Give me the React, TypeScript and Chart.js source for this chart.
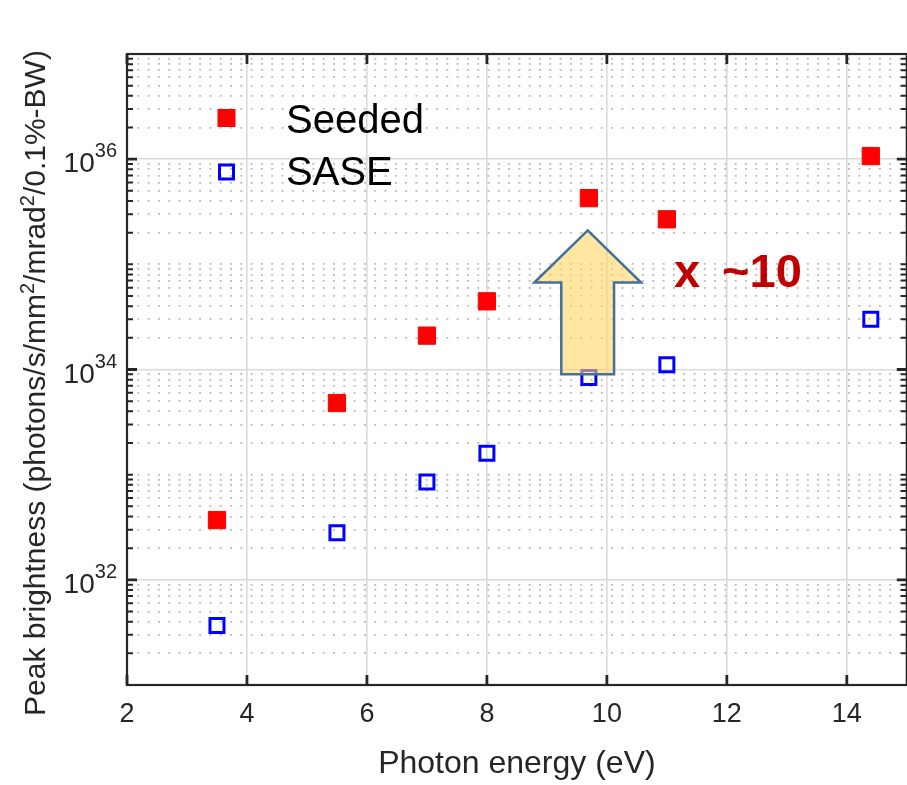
import React, { useEffect, useRef } from 'react';
import { Chart, registerables } from 'chart.js';

Chart.register(...registerables);

// Photon energies (eV) and peak brightness for the two FEL modes
const energies = [3.5, 5.5, 7, 8, 9.7, 11, 14.4];
const seededBrightness = [3.7e32, 4.8e33, 2.1e34, 4.45e34, 4.26e35, 2.68e35, 1.07e36];
const saseBrightness = [3.67e31, 2.8e32, 8.5e32, 1.6e33, 8.4e33, 1.11e34, 3.0e34];
const seriesLabels = ['Seeded', 'SASE'];

// Axis ticks and titles
const xTickValues = [2, 4, 6, 8, 10, 12, 14];
const yLabelExponents = [32, 34, 36];
const xTitle = 'Photon energy (eV)';
const yTitleParts: { text: string; sup?: boolean }[] = [
  { text: 'Peak brightness (photons/s/mm' },
  { text: '2', sup: true },
  { text: '/mrad' },
  { text: '2', sup: true },
  { text: '/0.1%-BW)' },
];

// Gain annotation: block arrow (data units) and its label
const gainArrow = { x: 9.68, tip: 2.1e35, neck: 6.7e34, base: 9.0e33, headHalf: 0.89, shaftHalf: 0.44 };
const gainText = ['x', '~10'];

const W = 920;
const H = 785;
const FONT = '"Liberation Sans", Arial, Helvetica, sans-serif';
const AXIS_COLOR = '#262626';

// every 1..9 x 10^n from 1e31 to 1e37 so each gets a grid line
const yGridValues: number[] = [];
for (let e = 31; e < 37; e++) for (let m = 1; m <= 9; m++) yGridValues.push(Number(`${m}e${e}`));
yGridValues.push(1e37);

const isDecade = (v: number) => {
  const lg = Math.log10(v);
  return Math.abs(lg - Math.round(lg)) < 1e-9;
};
const isLabelled = (v?: number) => {
  if (v === undefined) return false;
  if (!isDecade(v)) return false;
  return yLabelExponents.includes(Math.round(Math.log10(v)));
};

const overlayPlugin = {
  id: 'overlay',
  afterDatasetsDraw(chart: any) {
    const { ctx } = chart;
    const xs = chart.scales.x;
    const ys = chart.scales.y;
    const px = (v: number) => xs.getPixelForValue(v);
    const py = (v: number) => ys.getPixelForValue(v);

    // block arrow
    const a = gainArrow;
    ctx.save();
    ctx.beginPath();
    ctx.moveTo(px(a.x), py(a.tip));
    ctx.lineTo(px(a.x + a.headHalf), py(a.neck));
    ctx.lineTo(px(a.x + a.shaftHalf), py(a.neck));
    ctx.lineTo(px(a.x + a.shaftHalf), py(a.base));
    ctx.lineTo(px(a.x - a.shaftHalf), py(a.base));
    ctx.lineTo(px(a.x - a.shaftHalf), py(a.neck));
    ctx.lineTo(px(a.x - a.headHalf), py(a.neck));
    ctx.closePath();
    ctx.fillStyle = 'rgba(255, 214, 98, 0.6)';
    ctx.fill();
    ctx.lineWidth = 2.5;
    ctx.lineJoin = 'miter';
    ctx.strokeStyle = '#41719c';
    ctx.stroke();

    // gain label
    ctx.font = `bold 47px ${FONT}`;
    ctx.fillStyle = '#c00000';
    ctx.textBaseline = 'alphabetic';
    ctx.textAlign = 'left';
    ctx.fillText(gainText[0], px(11.12), py(6.1e34));
    ctx.fillText(gainText[1], px(11.92), py(6.1e34));
    ctx.restore();
  },
  afterDraw(chart: any) {
    const { ctx, chartArea } = chart;
    const { left, right, top, bottom } = chartArea;
    const xs = chart.scales.x;
    const ys = chart.scales.y;

    ctx.save();
    // axes box
    ctx.strokeStyle = AXIS_COLOR;
    ctx.lineWidth = 2.2;
    ctx.strokeRect(left, top, right - left, bottom - top);

    // x ticks (inward, bottom and top)
    ctx.lineWidth = 2.8;
    ctx.beginPath();
    xTickValues.forEach((v) => {
      const x = xs.getPixelForValue(v);
      ctx.moveTo(x, bottom);
      ctx.lineTo(x, bottom - 10);
      ctx.moveTo(x, top);
      ctx.lineTo(x, top + 10);
    });
    ctx.stroke();

    // y ticks (inward, left and right)
    yGridValues.forEach((v) => {
      const y = ys.getPixelForValue(v);
      const len = isLabelled(v) ? 10 : 6;
      ctx.lineWidth = isLabelled(v) ? 2.8 : 2;
      ctx.beginPath();
      ctx.moveTo(left, y);
      ctx.lineTo(left + len, y);
      ctx.moveTo(right, y);
      ctx.lineTo(right - len, y);
      ctx.stroke();
    });

    // y tick labels 10^n
    ctx.fillStyle = AXIS_COLOR;
    ctx.textAlign = 'left';
    ctx.textBaseline = 'alphabetic';
    yLabelExponents.forEach((e) => {
      const y = ys.getPixelForValue(Number(`1e${e}`));
      ctx.font = `20px ${FONT}`;
      const sup = String(e);
      const wSup = ctx.measureText(sup).width;
      ctx.font = `28px ${FONT}`;
      const wBase = ctx.measureText('10').width;
      const rightEdge = left - 10;
      ctx.fillText('10', rightEdge - wSup - wBase, y + 13);
      ctx.font = `20px ${FONT}`;
      ctx.fillText(sup, rightEdge - wSup, y - 2);
    });

    // y title with superscripts
    const baseFont = `30px ${FONT}`;
    const supFont = `20px ${FONT}`;
    let total = 0;
    yTitleParts.forEach((p) => {
      ctx.font = p.sup ? supFont : baseFont;
      total += ctx.measureText(p.text).width;
    });
    ctx.translate(45, 383);
    ctx.rotate(-Math.PI / 2);
    let cx = -total / 2;
    yTitleParts.forEach((p) => {
      ctx.font = p.sup ? supFont : baseFont;
      ctx.fillText(p.text, cx, p.sup ? -11 : 0);
      cx += ctx.measureText(p.text).width;
    });
    ctx.setTransform(1, 0, 0, 1, 0, 0);

    // legend
    const mx = left + 99.5;
    const rows = [top + 64, top + 118];
    ctx.fillStyle = '#ff0000';
    ctx.fillRect(mx - 9, rows[0] - 9, 18, 18);
    ctx.strokeStyle = '#0000ff';
    ctx.lineWidth = 3;
    ctx.strokeRect(mx - 7, rows[1] - 7, 14, 14);
    ctx.fillStyle = '#000000';
    ctx.font = `40px ${FONT}`;
    ctx.fillText(seriesLabels[0], left + 159, rows[0] + 15);
    ctx.fillText(seriesLabels[1], left + 159, rows[1] + 13);
    ctx.restore();
  },
};

export default function App() {
  const canvasRef = useRef<HTMLCanvasElement | null>(null);

  useEffect(() => {
    const canvas = canvasRef.current;
    if (!canvas) return;
    const chart = new Chart(canvas, {
      type: 'scatter',
      data: {
        datasets: [
          {
            label: seriesLabels[0],
            data: energies.map((x, i) => ({ x, y: seededBrightness[i] })),
            pointStyle: 'rect',
            pointRadius: 12.2,
            pointBackgroundColor: '#ff0000',
            pointBorderColor: '#ff0000',
            pointBorderWidth: 1,
            showLine: false,
          },
          {
            label: seriesLabels[1],
            data: energies.map((x, i) => ({ x, y: saseBrightness[i] })),
            pointStyle: 'rect',
            pointRadius: 9.9,
            pointBackgroundColor: 'rgba(0,0,0,0)',
            pointBorderColor: '#0000ff',
            pointBorderWidth: 3,
            showLine: false,
          },
        ],
      },
      options: {
        responsive: false,
        maintainAspectRatio: false,
        devicePixelRatio: 1,
        animation: false,
        events: [],
        layout: { padding: { left: 0, top: 54, right: W - 913, bottom: 0 } },
        plugins: {
          legend: { display: false },
          tooltip: { enabled: false },
        },
        scales: {
          x: {
            type: 'linear',
            min: 2,
            max: 15,
            afterBuildTicks: (scale: any) => {
              scale.ticks = xTickValues.map((value) => ({ value }));
            },
            afterFit: (scale: any) => {
              scale.height = 100;
            },
            ticks: {
              color: AXIS_COLOR,
              font: { family: FONT, size: 27 },
              padding: 13,
              maxRotation: 0,
              autoSkip: false,
            },
            grid: { color: '#dadada', lineWidth: 1.6, drawTicks: false },
            border: { display: false },
            title: {
              display: true,
              text: xTitle,
              color: AXIS_COLOR,
              font: { family: FONT, size: 32 },
              padding: { top: 0, bottom: 1.5 },
            },
          },
          y: {
            type: 'logarithmic',
            min: 1e31,
            max: 1e37,
            afterBuildTicks: (scale: any) => {
              scale.ticks = yGridValues.map((value) => ({ value }));
            },
            afterFit: (scale: any) => {
              scale.width = 127;
            },
            ticks: { display: false },
            grid: {
              drawTicks: false,
              color: (c: any) => (isLabelled(c.tick?.value) ? '#dadada' : '#bdbdbd'),
              lineWidth: (c: any) => (isLabelled(c.tick?.value) ? 1.6 : 1.8),
            },
            border: {
              display: false,
              dash: (c: any) => (c.tick && !isLabelled(c.tick.value) ? [2, 8.3] : []),
            },
          },
        },
      } as any,
      plugins: [overlayPlugin],
    });
    return () => chart.destroy();
  }, []);

  return (
    <div
      style={{
        position: 'fixed',
        left: 0,
        top: 0,
        width: 907,
        height: 785,
        overflow: 'hidden',
        background: '#ffffff',
      }}
    >
      <canvas ref={canvasRef} width={W} height={H} style={{ width: W, height: H, display: 'block' }} />
    </div>
  );
}
